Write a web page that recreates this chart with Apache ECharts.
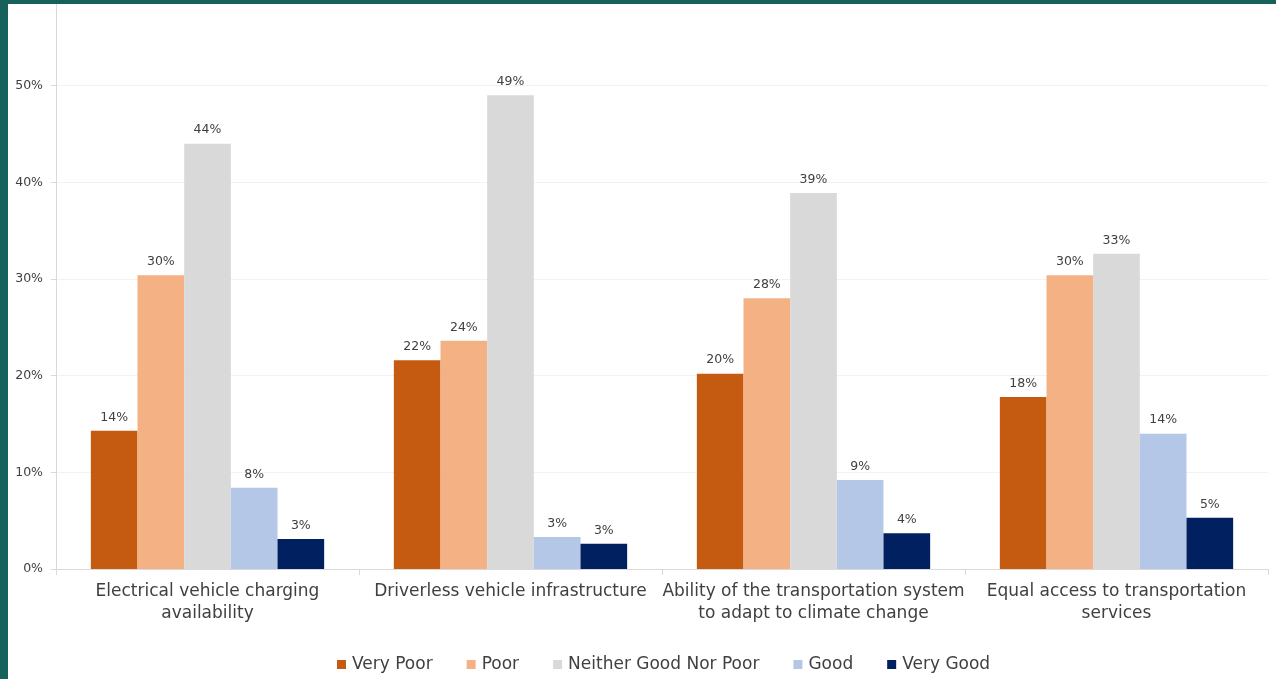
<!DOCTYPE html>
<html>
<head>
<meta charset="utf-8">
<script src="https://cdn.jsdelivr.net/npm/echarts@6/dist/echarts.min.js"></script>
<style>
html,body{margin:0;padding:0;background:#16625b;width:1276px;height:679px;overflow:hidden;}
#chart{position:absolute;left:8px;top:4px;width:1268px;height:675px;background:#ffffff;}
</style>
</head>
<body>
<div id="chart"></div>
<script>
const categories = [
  'Electrical vehicle charging\navailability',
  'Driverless vehicle infrastructure',
  'Ability of the transportation system\nto adapt to climate change',
  'Equal access to transportation\nservices'
];
const seriesNames = ['Very Poor', 'Poor', 'Neither Good Nor Poor', 'Good', 'Very Good'];
const veryPoor = [14.3, 21.6, 20.2, 17.8];
const poor = [30.4, 23.6, 28.0, 30.4];
const neither = [44.0, 49.0, 38.9, 32.6];
const good = [8.4, 3.3, 9.2, 14.0];
const veryGood = [3.1, 2.6, 3.7, 5.3];
const colors = ['#c55a11', '#f4b183', '#d9d9d9', '#b4c7e7', '#002060'];
const yTicks = [0, 10, 20, 30, 40, 50, 60];

const allData = [veryPoor, poor, neither, good, veryGood];
const FONT = 'DejaVu Sans';

const chart = echarts.init(document.getElementById('chart'), null, {renderer: 'canvas'});
chart.setOption({
  animation: false,
  color: colors,
  textStyle: {fontFamily: FONT},
  grid: {left: 48, right: 8, top: -15, bottom: 110, containLabel: false, outerBoundsMode: 'none'},
  legend: {
    data: seriesNames,
    left: 324,
    top: 647,
    itemWidth: 9,
    itemHeight: 9,
    itemGap: 34,
    icon: 'rect',
    textStyle: {fontFamily: FONT, fontSize: 17, color: '#404040', padding: [0, 0, 0, 1]}
  },
  xAxis: {
    type: 'category',
    data: categories,
    axisLine: {lineStyle: {color: '#d9d9d9', width: 1}},
    axisTick: {show: true, length: 6, lineStyle: {color: '#d9d9d9'}},
    axisLabel: {fontFamily: FONT, fontSize: 17, color: '#404040', lineHeight: 22, margin: 12, interval: 0}
  },
  yAxis: {
    type: 'value',
    min: yTicks[0],
    max: yTicks[yTicks.length - 1],
    interval: 10,
    axisLine: {show: true, lineStyle: {color: '#d9d9d9'}},
    axisTick: {show: true, length: 5, lineStyle: {color: '#d9d9d9'}},
    splitLine: {lineStyle: {color: '#f2f2f2'}},
    axisLabel: {fontFamily: FONT, fontSize: 12.5, color: '#404040', margin: 13, formatter: v => v + '%'}
  },
  series: seriesNames.map((n, i) => ({
    name: n,
    type: 'bar',
    data: allData[i],
    barGap: '0%',
    barCategoryGap: '23%',
    label: {
      show: true,
      position: 'top',
      distance: 7,
      fontFamily: FONT,
      fontSize: 12.5,
      color: '#404040',
      formatter: p => Math.round(p.value) + '%'
    }
  }))
});
</script>
</body>
</html>
